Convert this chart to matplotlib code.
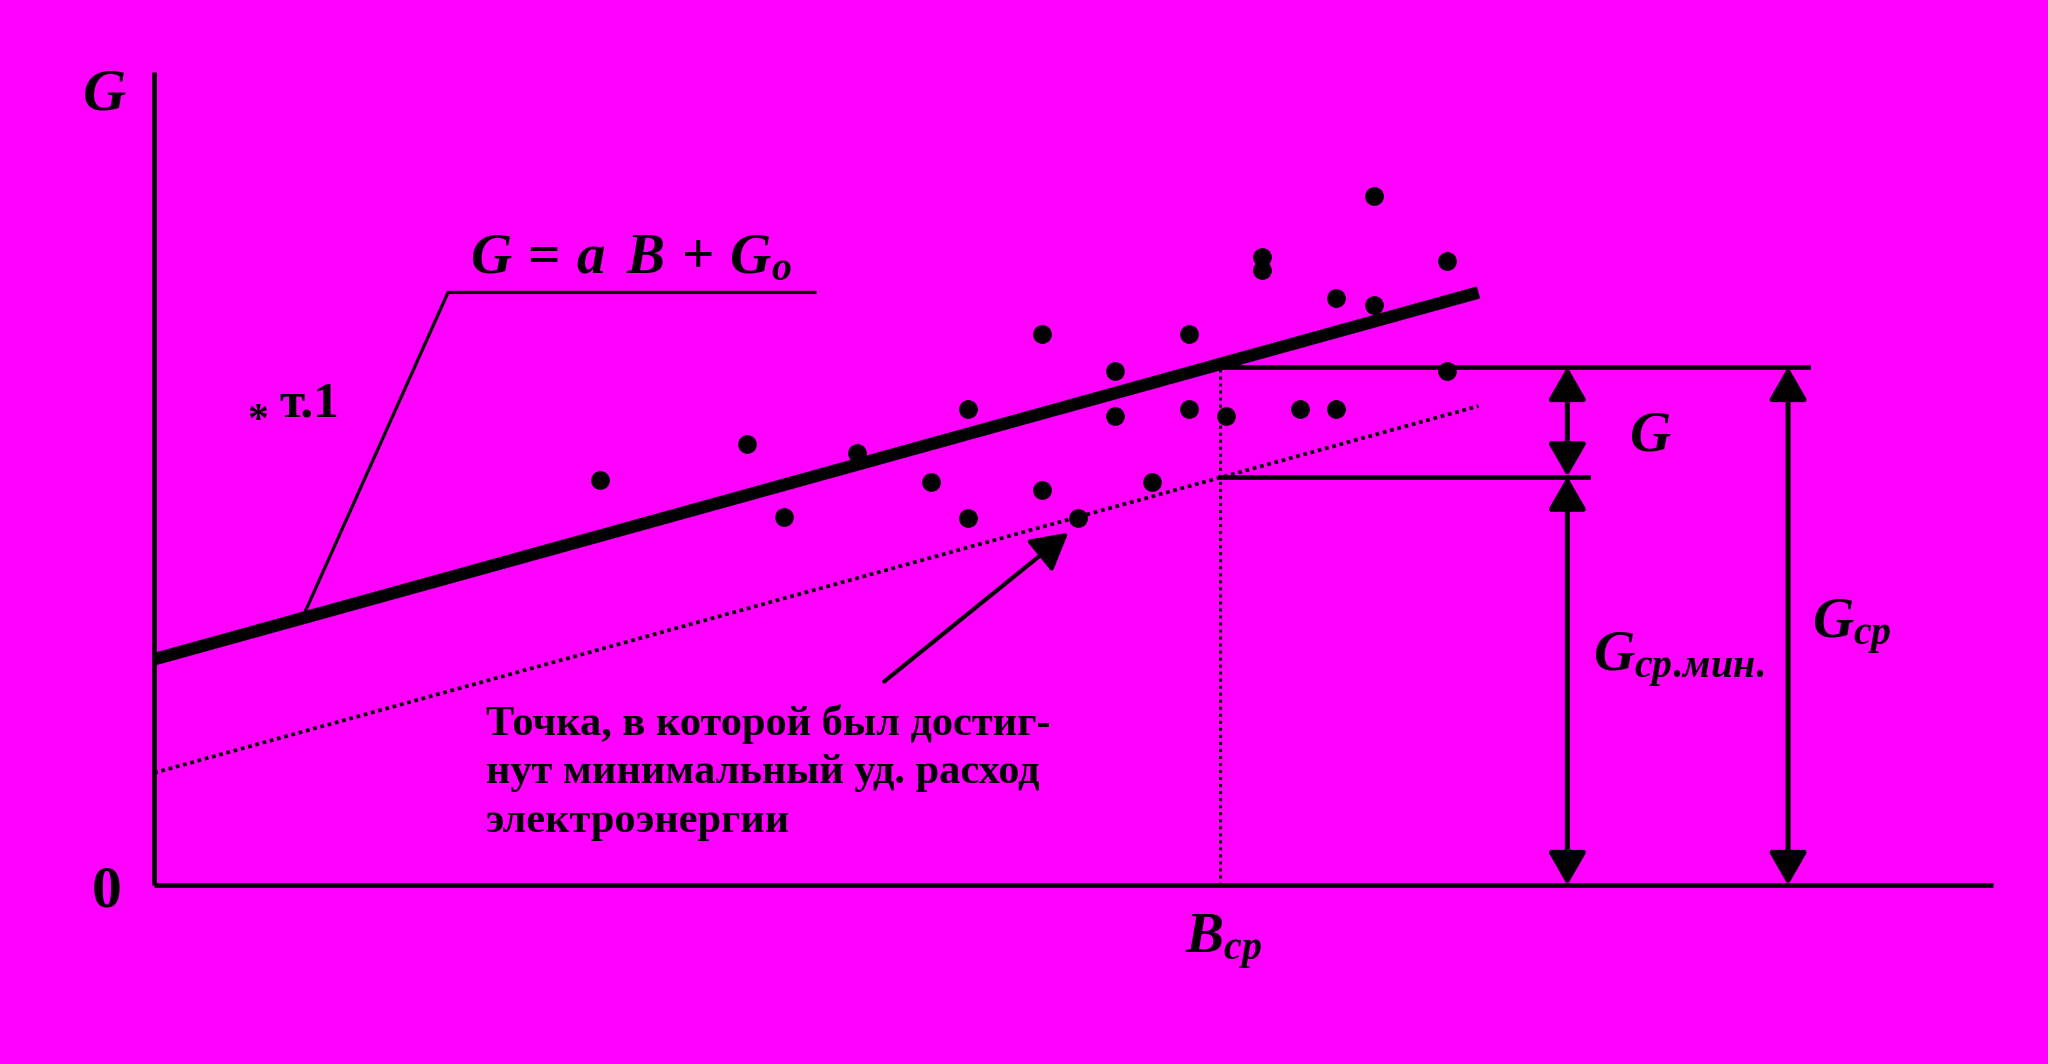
# Scheme: specific electricity consumption G versus output B
import numpy as np
import matplotlib.pyplot as plt

plt.rcParams['font.family'] = ['Liberation Serif', 'DejaVu Serif']
plt.rcParams['mathtext.fontset'] = 'custom'
plt.rcParams['mathtext.it'] = 'Liberation Serif:italic:bold'
plt.rcParams['mathtext.rm'] = 'Liberation Serif:bold'
plt.rcParams['mathtext.bf'] = 'Liberation Serif:bold'

# measured points (B, G)
pts_B = [34.1, 45.4, 48.2, 53.8, 59.5, 62.3, 62.3, 68.0, 68.0, 70.7, 73.6, 73.6, 76.4,
         79.2, 79.2, 82.1, 84.8, 84.8, 87.7, 90.5, 90.5, 93.4, 93.4, 99.0, 99.0]
pts_G = [31.0, 33.8, 28.2, 33.1, 30.9, 36.5, 28.1, 42.2, 30.3, 28.1, 39.4, 35.9, 30.9,
         42.2, 36.5, 35.9, 48.1, 47.1, 36.5, 45.0, 36.5, 52.8, 44.4, 47.8, 39.4]

# regression line G = aB + Go and the minimum line (end points)
reg_B = [0.0, 101.4]
reg_G = [17.3, 45.4]
min_B = [0.0, 101.4]
min_G = [8.6, 36.7]

# leader from the regression line to its formula
lead_B = [11.5, 22.5, 50.6]
lead_G = [20.8, 45.4, 45.4]

B_sr = 81.6
G_sr = 39.7
G_sr_min = 31.3
x_end = 140.8
y_top = 62.3
arrow1_B = 108.2
arrow2_B = 125.1
ext1_B = 126.6
ext2_B = 109.8

pointer_from = (55.9, 15.6)
pointer_to = (70.0, 27.0)

note_lines = ['Точка, в которой был достиг-',
              'нут минимальный уд. расход',
              'электроэнергии']
note_G = [11.5, 7.8, 4.1]

magenta = '#FF00FF'
fig = plt.figure(figsize=(20.48, 10.64), dpi=100, facecolor=magenta)
ax = fig.add_axes([0, 0, 1, 1])
ax.set_facecolor(magenta)
ax.set_xlim(-11.8, 145.0)
ax.set_ylim(-13.7, 67.8)
ax.axis('off')

# axes
ax.plot([0, 0], [0, y_top], color='k', lw=3.4, solid_capstyle='butt')
ax.plot([0, x_end], [0, 0], color='k', lw=3.4, solid_capstyle='butt')

ax.plot(reg_B, reg_G, color='k', lw=9, solid_capstyle='butt')
ax.plot(min_B, min_G, color='k', lw=2.7, linestyle=(0, (1, 1)))
ax.plot(lead_B, lead_G, color='k', lw=2.3)
ax.plot(pts_B, pts_G, 'o', color='k', ms=12.5)

# B_sr construction
ax.plot([B_sr, B_sr], [0, G_sr], color='k', lw=2.2, linestyle=(0, (1, 1.3)))
ax.plot([B_sr, ext1_B], [G_sr, G_sr], color='k', lw=3.4)
ax.plot([B_sr, ext2_B], [G_sr_min, G_sr_min], color='k', lw=3.4)

arr = dict(arrowstyle='<|-|>,head_length=0.4,head_width=0.23', color='k', lw=3.6,
           mutation_scale=50, shrinkA=0, shrinkB=0)
ax.annotate('', xy=(arrow1_B, G_sr_min), xytext=(arrow1_B, G_sr), arrowprops=arr)
ax.annotate('', xy=(arrow1_B, 0), xytext=(arrow1_B, G_sr_min), arrowprops=arr)
ax.annotate('', xy=(arrow2_B, 0), xytext=(arrow2_B, G_sr), arrowprops=arr)
ax.annotate('', xy=pointer_to, xytext=pointer_from,
            arrowprops=dict(arrowstyle='-|>,head_length=0.45,head_width=0.25', color='k',
                            lw=3.0, mutation_scale=50, shrinkA=0, shrinkB=0))

# labels
ax.text(-5.45, 59.4, 'G', fontsize=43, fontweight='bold', fontstyle='italic', va='baseline')
ax.text(-3.6, -1.6, '0', fontsize=43, fontweight='bold', ha='center', va='baseline')
ax.text(24.2, 46.9, r'$G\,=\,a\ \,B\,+\,G_o$', fontsize=41, va='baseline')
ax.text(7.95, 34.7, '*', fontsize=30, fontweight='bold', ha='center', va='baseline')
ax.text(9.6, 35.9, 'т.1', fontsize=37, fontweight='bold', va='baseline')
ax.text(112.9, 33.3, r'$G$', fontsize=41, va='baseline')
ax.text(110.2, 16.4, r'$G_{ср.\!мин.}$', fontsize=41, va='baseline')
ax.text(126.9, 18.9, r'$G_{ср}$', fontsize=41, va='baseline')
ax.text(78.9, -5.2, r'$B_{ср}$', fontsize=41, va='baseline')

for line, g in zip(note_lines, note_G):
    ax.text(25.4, g, line, fontsize=30.5, fontweight='bold', va='baseline')

fig.savefig('out.png', dpi=100, facecolor=magenta)
